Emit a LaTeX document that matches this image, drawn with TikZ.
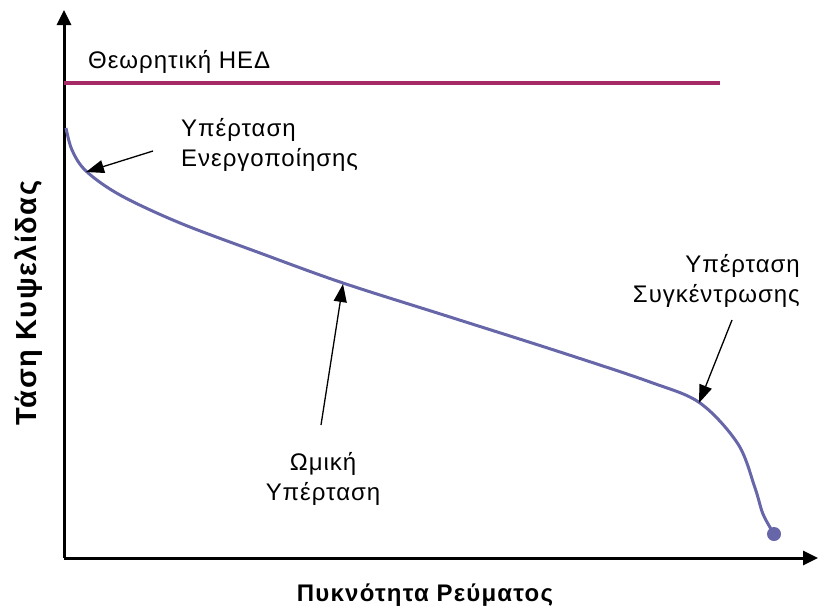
\documentclass[tikz,border=0pt]{standalone}
\usepackage{fontspec}
\setmainfont{Liberation Sans}
\newfontfamily\lblfont[LetterSpace=4]{Liberation Sans}
\newfontfamily\axfont[LetterSpace=5]{Liberation Sans}
\usetikzlibrary{arrows.meta,positioning}
\definecolor{emfline}{RGB}{165,42,102}
\definecolor{curveblue}{RGB}{102,102,168}
\tikzset{
  axis/.style={line width=3pt,-{Triangle[length=15pt,width=14pt]}},
  pointer/.style={line width=1.3pt,-{Triangle[length=18pt,width=13pt]}},
  lbl/.style={inner sep=0pt,font=\lblfont\fontsize{24}{30}\selectfont},
  axlbl/.style={inner sep=0pt,font=\axfont\bfseries\fontsize{#1}{#1}\selectfont}
}

\begin{document}
\begin{tikzpicture}[x=1pt,y=-1pt]
    \useasboundingbox (0,0) rectangle (827,605);
    \coordinate (O) at (64,558);
    \coordinate (Ytop) at (64,10);
    \coordinate (Xend) at (818,558);
    \draw[axis] (O) -- (Ytop);
    \draw[axis] (O) -- (Xend);

    % theoretical voltage
    \draw[emfline,line width=4pt] (64,83) -- (720,83);
    \node[lbl,anchor=base west] (emf) at (88,68) {Θεωρητική ΗΕΔ};

    % polarisation curve
    \draw[curveblue,line width=3pt] plot[smooth,tension=0.55] coordinates {
      (66,128) (72,150) (86,171) (120,195) (180,223) (260,253) (343,283)
      (450,317) (560,352) (650,382) (700,403) (738,444) (755,488) (763,514) (774,534)};
    \fill[curveblue] (774,534) circle (7);
    \coordinate (act) at (86,172);
    \coordinate (ohm) at (343,284);
    \coordinate (conc) at (699,403);

    % base = last line
    \node[lbl,anchor=base west,align=left] (actlbl) at (181,166) {Υπέρταση\\Ενεργοποίησης};
    \node[lbl,anchor=base,align=center] (ohmlbl) at (323,500) {Ωμική\\Υπέρταση};
    \node[lbl,anchor=base east,align=right] (conclbl) at (800,302) {Υπέρταση\\Συγκέντρωσης};

    \coordinate (actstart) at (153,151);
    \coordinate (ohmstart) at (321,425);
    \coordinate (concstart) at (732,320);
    \draw[pointer] (actstart) -- (act);
    \draw[pointer] (ohmstart) -- (ohm);
    \draw[pointer] (concstart) -- (conc);

    \node[axlbl=29,rotate=90,anchor=base] (ylbl) at (36,303) {Τάση Κυψελίδας};
    \node[axlbl=24,anchor=base] (xlbl) at (425,601) {Πυκνότητα Ρεύματος};
\end{tikzpicture}
\end{document}
